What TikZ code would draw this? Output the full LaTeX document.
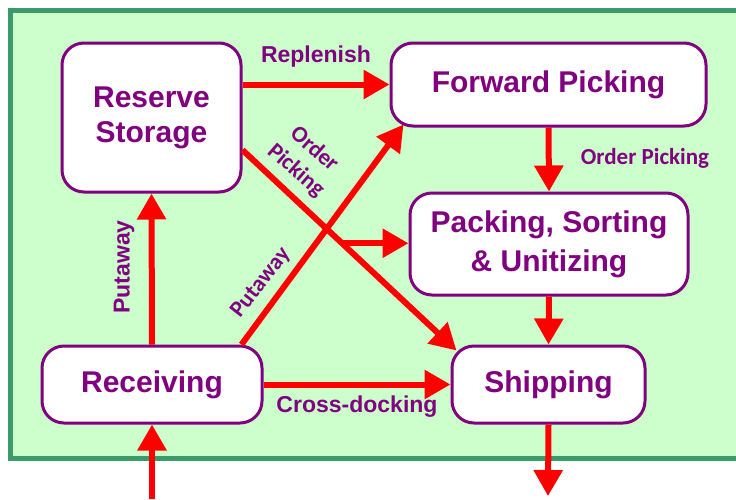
\documentclass[tikz,border=0pt]{standalone}
\usepackage{fontspec}
\setmainfont{Liberation Sans}
\newfontfamily\carl{Carlito}
\usetikzlibrary{arrows.meta,calc}
\definecolor{pur}{RGB}{128,0,128}
\definecolor{bggreen}{RGB}{204,255,204}
\definecolor{edgegreen}{RGB}{58,154,106}
\definecolor{arrred}{RGB}{255,0,0}
\tikzset{
  box/.style={draw=pur, line width=3pt, fill=white, rounded corners=22pt,
    text=pur, font=\bfseries\fontsize{30}{35}\selectfont, align=center, inner sep=0pt},
  flow/.style={draw=arrred, line width=6pt, -{Triangle[length=26pt,width=28pt]}},
  lab/.style={text=pur, font=\bfseries\fontsize{23}{26}\selectfont, inner sep=0pt},
  clab/.style={text=pur, font=\carl\bfseries\fontsize{23}{28}\selectfont, inner sep=0pt, align=center},
}
\begin{document}
\begin{tikzpicture}[x=1pt,y=-1pt]
\useasboundingbox (0,0) rectangle (736,499);
\fill[bggreen] (10,10) rectangle (760,458);
\draw[edgegreen, line width=5pt] (760,10) -- (10,10) -- (10,458) -- (760,458);

\node[box, minimum width=179pt, minimum height=149pt] (res) at (151.5,117.5) {Reserve\\Storage};
\node[box, minimum width=315pt, minimum height=83pt] (fwd) at (548.5,84.5) {Forward Picking};
\node[box, minimum width=278pt, minimum height=102pt, font=\bfseries\fontsize{30}{39}\selectfont] (pck) at (549,244) {Packing, Sorting\\\& Unitizing};
\node[box, minimum width=193pt, minimum height=77pt] (shp) at (548.5,384.5) {Shipping};
\node[box, minimum width=220pt, minimum height=77pt] (rcv) at (152,384.5) {Receiving};

\coordinate (inA) at (152,499);
\coordinate (outB) at (548,496);
\coordinate (rsA) at ([yshift=-32.5pt]res.east);
\coordinate (rsB) at ([shift={(6pt,-6pt)}]shp.north west);
\coordinate (rfA) at ([xshift=-22pt]rcv.north east);
\coordinate (rfB) at ([shift={(14pt,3pt)}]fwd.south west);
\coordinate (br) at ($(rsA)!0.465!(rsB)$);

\draw[flow] (res.east |- fwd.west) -- (fwd.west);
\draw[flow] (rsA) -- (rsB);
\draw[flow] (rfA) -- (rfB);
\draw[flow] (br) -- (br -| pck.west);
\draw[flow] (rcv.north) -- (res.south);
\draw[flow] (rcv.east) -- (shp.west);
\draw[flow] (fwd.south) -- (pck.north);
\draw[flow] (pck.south) -- (shp.north);
\draw[flow] (inA) -- (rcv.south);
\draw[flow] (shp.south) -- (outB);

\node[lab] (l1) at (316,57) {Replenish};
\node[lab] (l2) at (357,407) {Cross-docking};
\node[lab, rotate=90] (l3) at (124,267) {Putaway};
\node[clab] (l4) at (645,158) {Order Picking};
\node[clab, rotate=-41] (l5) at (305,160) {Order\\Picking};
\node[clab, rotate=52] (l6) at (261,283) {Putaway};
\end{tikzpicture}
\end{document}
